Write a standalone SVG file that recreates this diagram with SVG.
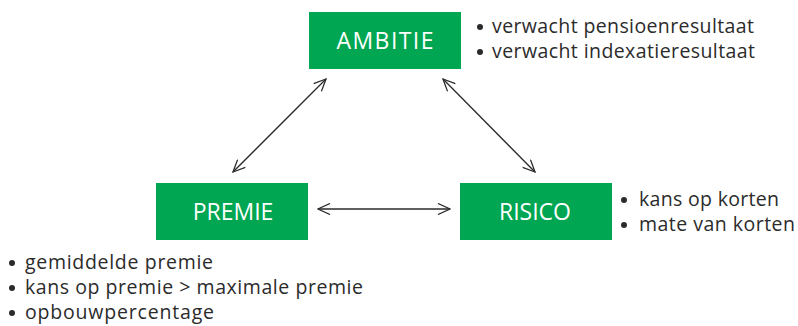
<svg xmlns="http://www.w3.org/2000/svg" width="798" height="326" viewBox="0 0 798 326">
<style>
.box{fill:#00A651}
.lbl{fill:#fff;font-family:"Open Sans","Lato",sans-serif;font-size:23px;text-anchor:middle}
.bt{fill:#2b2b2b;font-family:"Open Sans","Lato",sans-serif;font-size:19.5px}
.dot{fill:#2b2b2b}
.con{stroke:#2b2b2b;stroke-width:1.3;fill:none;marker-start:url(#ah);marker-end:url(#ah)}
</style>
<defs>
<marker id="ah" viewBox="0 0 14 12" refX="13" refY="6" markerWidth="14" markerHeight="12" markerUnits="userSpaceOnUse" orient="auto-start-reverse">
<path d="M1,0.5 L13,6 L1,11.5" fill="none" stroke="#2b2b2b" stroke-width="1.3"/>
</marker>
</defs>
<rect width="798" height="326" fill="#fff"/>
<g id="connectors">
<line class="con" x1="233" y1="172" x2="326" y2="79"/>
<line class="con" x1="443" y1="79" x2="535" y2="172"/>
<line class="con" x1="318" y1="209" x2="450" y2="209"/>
</g>
<g id="ambitie">
<rect class="box" x="309" y="12" width="152" height="57"/>
<text class="lbl" x="385" y="49" textLength="97">AMBITIE</text>
<circle class="dot" cx="480" cy="27" r="3"/>
<text class="bt" x="492" y="33" textLength="262">verwacht pensioenresultaat</text>
<circle class="dot" cx="480" cy="52" r="3"/>
<text class="bt" x="492" y="58" textLength="263">verwacht indexatieresultaat</text>
</g>
<g id="premie">
<rect class="box" x="156" y="183" width="152" height="57"/>
<text class="lbl" x="233" y="220">PREMIE</text>
<circle class="dot" cx="12" cy="263" r="3"/>
<text class="bt" x="25" y="269" textLength="188">gemiddelde premie</text>
<circle class="dot" cx="12" cy="288" r="3"/>
<text class="bt" x="25" y="294" textLength="338">kans op premie &gt; maximale premie</text>
<circle class="dot" cx="12" cy="313" r="3"/>
<text class="bt" x="25" y="319" textLength="189">opbouwpercentage</text>
</g>
<g id="risico">
<rect class="box" x="460" y="183" width="152" height="57"/>
<text class="lbl" x="535" y="220">RISICO</text>
<circle class="dot" cx="624" cy="200" r="3"/>
<text class="bt" x="639" y="206" textLength="140">kans op korten</text>
<circle class="dot" cx="624" cy="225" r="3"/>
<text class="bt" x="639" y="231" textLength="156">mate van korten</text>
</g>
</svg>
